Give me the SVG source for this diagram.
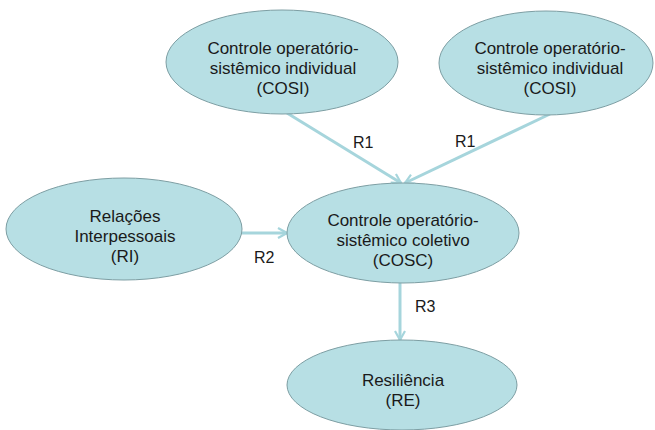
<svg xmlns="http://www.w3.org/2000/svg" width="655" height="430" viewBox="0 0 655 430">
<defs>
<style>
.node{fill:#b7dfe4;stroke:#7d9ea3;stroke-width:1}
.t{font-family:"Liberation Sans",Arial,sans-serif;font-size:17px;fill:#1a1a1a;text-anchor:middle}
.c{stroke:#a6d5dc;stroke-width:3;fill:none}
.l{font-family:"Liberation Sans",Arial,sans-serif;font-size:16px;fill:#1a1a1a}
</style>
<marker id="ah" viewBox="0 0 12 12" refX="10" refY="6" markerWidth="12" markerHeight="12" markerUnits="userSpaceOnUse" orient="auto">
<path d="M1,1 L10,6 L1,11" fill="none" stroke="#a6d5dc" stroke-width="2.2"/>
</marker>
</defs>
<rect width="655" height="430" fill="#ffffff"/>
<g id="connectors">
<line class="c" x1="287" y1="113" x2="401" y2="183" marker-end="url(#ah)"/>
<line class="c" x1="550" y1="114" x2="405" y2="183" marker-end="url(#ah)"/>
<line class="c" x1="242" y1="233" x2="287" y2="233" marker-end="url(#ah)"/>
<line class="c" x1="400" y1="283" x2="400" y2="340" marker-end="url(#ah)"/>
<text class="l" x="353" y="148">R1</text>
<text class="l" x="455" y="147">R1</text>
<text class="l" x="254" y="263">R2</text>
<text class="l" x="415" y="312">R3</text>
</g>
<g id="cosi1">
<ellipse class="node" cx="282" cy="62" rx="116" ry="52"/>
<text class="t" x="283" y="54">Controle operatório-</text>
<text class="t" x="283" y="74">sistêmico individual</text>
<text class="t" x="283" y="94">(COSI)</text>
</g>
<g id="cosi2">
<ellipse class="node" cx="546" cy="63" rx="107" ry="52"/>
<text class="t" x="550" y="54">Controle operatório-</text>
<text class="t" x="550" y="74">sistêmico individual</text>
<text class="t" x="550" y="94">(COSI)</text>
</g>
<g id="ri">
<ellipse class="node" cx="124" cy="229" rx="118" ry="51"/>
<text class="t" x="125" y="222">Relações</text>
<text class="t" x="125" y="242">Interpessoais</text>
<text class="t" x="125" y="262">(RI)</text>
</g>
<g id="cosc">
<ellipse class="node" cx="403" cy="233" rx="116" ry="50"/>
<text class="t" x="403" y="226">Controle operatório-</text>
<text class="t" x="403" y="246">sistêmico coletivo</text>
<text class="t" x="403" y="266">(COSC)</text>
</g>
<g id="re">
<ellipse class="node" cx="402" cy="385" rx="115" ry="45"/>
<text class="t" x="403" y="386">Resiliência</text>
<text class="t" x="403" y="406">(RE)</text>
</g>
</svg>
